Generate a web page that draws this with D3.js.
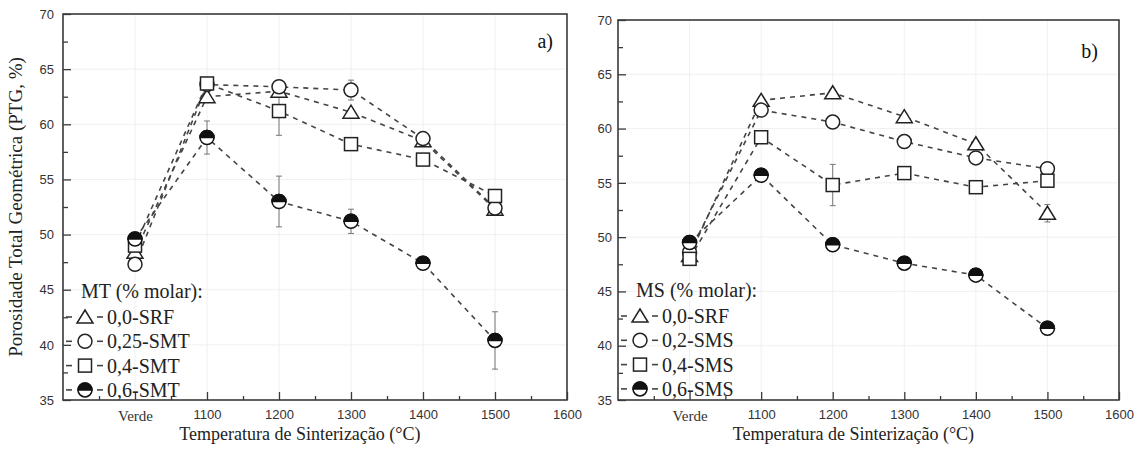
<!DOCTYPE html>
<html>
<head>
<meta charset="utf-8">
<script src="https://cdn.jsdelivr.net/npm/d3@7"></script>
<style>
  body { margin: 0; background: #fff; }
  svg { display: block; }
</style>
</head>
<body>
<div id="chart"></div>
<script>
// x positions (Verde = green body, drawn at 1000)
const temps = [1000, 1100, 1200, 1300, 1400, 1500]
const xTicks = [1000, 1100, 1200, 1300, 1400, 1500, 1600]
const xTickLabels = ['Verde', '1100', '1200', '1300', '1400', '1500', '1600']
const yTicks = [35, 40, 45, 50, 55, 60, 65, 70]

// a) MT
const mtNames = ['0,0-SRF', '0,25-SMT', '0,4-SMT', '0,6-SMT']
const mtSRF = [48.4, 62.5, 63.0, 61.1, 58.5, 52.3]
const mtSMT025 = [47.3, 63.6, 63.4, 63.1, 58.7, 52.4]
const mtSMT04 = [49.0, 63.7, 61.2, 58.2, 56.8, 53.5]
const mtSMT06 = [49.6, 58.8, 53.0, 51.2, 47.4, 40.4]
const mtErrSRF = [0.4, 0.4, 0.4, 0.3, 0.3, 0.4]
const mtErrSMT025 = [0.5, 0.3, 0.3, 0.9, 0.3, 0.5]
const mtErrSMT04 = [0.4, 0.3, 2.2, 0.3, 0.3, 0.3]
const mtErrSMT06 = [0.4, 1.5, 2.3, 1.1, 0.3, 2.6]

// b) MS
const msNames = ['0,0-SRF', '0,2-SMS', '0,4-SMS', '0,6-SMS']
const msSRF = [48.3, 62.6, 63.3, 61.1, 58.6, 52.2]
const msSMS02 = [48.6, 61.7, 60.6, 58.8, 57.3, 56.3]
const msSMS04 = [48.0, 59.2, 54.8, 55.9, 54.6, 55.2]
const msSMS06 = [49.5, 55.7, 49.3, 47.6, 46.5, 41.6]
const msErrSRF = [0.3, 0.3, 0.3, 0.3, 0.3, 0.8]
const msErrSMS02 = [0.3, 0.3, 0.3, 0.3, 0.3, 0.5]
const msErrSMS04 = [0.4, 0.3, 1.9, 0.3, 0.3, 0.3]
const msErrSMS06 = [0.3, 0.3, 0.3, 0.3, 0.3, 0.6]

const symbols = ['triangle', 'circle', 'square', 'half']

const width = 1140
const height = 454
const serif = '"Liberation Serif", "Times New Roman", serif'
const sans = '"Liberation Sans", Arial, sans-serif'
const axisColor = '#3a3a3a'

const svg = d3.select('#chart')
  .append('svg')
  .attr('width', width)
  .attr('height', height)

function drawMarker(g, symbol, cx, cy) {
  if (symbol === 'triangle') {
    g.append('path')
      .attr('d', `M ${cx - 8},${cy + 6} L ${cx + 8},${cy + 6} L ${cx},${cy - 7} Z`)
      .attr('fill', '#fff')
      .attr('stroke', '#222')
      .attr('stroke-width', 1.5)
  } else if (symbol === 'circle') {
    g.append('circle')
      .attr('cx', cx).attr('cy', cy).attr('r', 7)
      .attr('fill', '#fff')
      .attr('stroke', '#222')
      .attr('stroke-width', 1.5)
  } else if (symbol === 'square') {
    g.append('rect')
      .attr('x', cx - 6.5).attr('y', cy - 6.5)
      .attr('width', 13).attr('height', 13)
      .attr('fill', '#fff')
      .attr('stroke', '#222')
      .attr('stroke-width', 1.5)
  } else {
    const r = 7
    g.append('circle')
      .attr('cx', cx).attr('cy', cy).attr('r', r)
      .attr('fill', '#fff')
      .attr('stroke', '#111')
      .attr('stroke-width', 1.5)
    g.append('path')
      .attr('d', `M ${cx - r},${cy} A ${r},${r} 0 0 1 ${cx + r},${cy} Z`)
      .attr('fill', '#111')
      .attr('stroke', '#111')
      .attr('stroke-width', 1.5)
  }
}

function drawPanel(opts) {
  const x = d3.scaleLinear().domain([900, 1600]).range([opts.left, opts.right])
  const y = d3.scaleLinear().domain([35, 70]).range([opts.bottom, opts.top])
  const g = svg.append('g')

  // Faint grid
  g.append('g')
    .selectAll('line')
    .data(xTicks.slice(0, -1))
    .join('line')
    .attr('x1', d => x(d)).attr('x2', d => x(d))
    .attr('y1', opts.top).attr('y2', opts.bottom)
    .attr('stroke', '#f0f0f0')
  g.append('g')
    .selectAll('line')
    .data(yTicks.slice(1, -1))
    .join('line')
    .attr('x1', opts.left).attr('x2', opts.right)
    .attr('y1', d => y(d)).attr('y2', d => y(d))
    .attr('stroke', '#f0f0f0')

  // Axes, ticks inside
  const xAxis = d3.axisBottom(x)
    .tickValues(xTicks)
    .tickSize(-8)
    .tickPadding(10)
    .tickFormat((d, i) => xTickLabels[i])
  const xMinor = d3.axisBottom(x)
    .tickValues(d3.range(950, 1600, 100))
    .tickSize(-4)
    .tickFormat('')
  const yAxis = d3.axisLeft(y)
    .tickValues(yTicks)
    .tickSize(-8)
    .tickPadding(opts.yPad)
  const yMinor = d3.axisLeft(y)
    .tickValues(d3.range(37.5, 70, 5))
    .tickSize(-5)
    .tickFormat('')

  const gx = g.append('g').attr('transform', `translate(0,${opts.bottom})`).call(xAxis)
  g.append('g').attr('transform', `translate(0,${opts.bottom})`).call(xMinor)
  const gy = g.append('g').attr('transform', `translate(${opts.left},0)`).call(yAxis)
  g.append('g').attr('transform', `translate(${opts.left},0)`).call(yMinor)

  g.selectAll('.domain').remove()
  g.selectAll('.tick line').attr('stroke', axisColor).attr('stroke-width', 1.3)
  gx.selectAll('text')
    .attr('font-family', (d, i) => i === 0 ? serif : sans)
    .attr('font-size', (d, i) => i === 0 ? '15px' : '13px')
    .attr('fill', '#333')
  gy.selectAll('text')
    .attr('font-family', sans)
    .attr('font-size', '13px')
    .attr('fill', '#333')

  // Frame
  g.append('rect')
    .attr('x', opts.left).attr('y', opts.top)
    .attr('width', opts.right - opts.left)
    .attr('height', opts.bottom - opts.top)
    .attr('fill', 'none')
    .attr('stroke', axisColor)
    .attr('stroke-width', 1.6)

  // Dashed lines
  const line = d3.line().x((d, i) => x(temps[i])).y(d => y(d))
  opts.series.forEach(s => {
    g.append('path')
      .datum(s.values)
      .attr('d', line)
      .attr('fill', 'none')
      .attr('stroke', '#444')
      .attr('stroke-width', 1.6)
      .attr('stroke-dasharray', '5,5')
  })

  // Error bars
  opts.series.forEach(s => {
    s.values.forEach((v, i) => {
      const cx = x(temps[i])
      const e = s.errors[i]
      g.append('line')
        .attr('x1', cx).attr('x2', cx)
        .attr('y1', y(v - e)).attr('y2', y(v + e))
        .attr('stroke', '#777').attr('stroke-width', 1)
      ;[v - e, v + e].forEach(b => {
        g.append('line')
          .attr('x1', cx - 3).attr('x2', cx + 3)
          .attr('y1', y(b)).attr('y2', y(b))
          .attr('stroke', '#777').attr('stroke-width', 1)
      })
    })
  })

  // Markers
  opts.series.forEach(s => {
    s.values.forEach((v, i) => drawMarker(g, s.symbol, x(temps[i]), y(v)))
  })

  // Legend
  const lx = opts.left
  g.append('text')
    .attr('x', lx + 18).attr('y', opts.legendTop)
    .attr('font-family', serif).attr('font-size', '20px').attr('fill', '#222')
    .text(opts.legendTitle)
  opts.series.forEach((s, i) => {
    const ly = opts.legendTop + 19 + i * 24.3
    ;[[lx + 3, lx + 9], [lx + 34, lx + 40]].forEach(seg => {
      g.append('line')
        .attr('x1', seg[0]).attr('x2', seg[1])
        .attr('y1', ly).attr('y2', ly)
        .attr('stroke', '#444').attr('stroke-width', 1.6)
    })
    drawMarker(g, s.symbol, lx + 22, ly)
    g.append('text')
      .attr('x', lx + 44).attr('y', ly + 7)
      .attr('font-family', serif).attr('font-size', '20px').attr('fill', '#222')
      .text(s.name)
  })

  // Panel label
  g.append('text')
    .attr('x', opts.labelX).attr('y', opts.labelY)
    .attr('text-anchor', 'end')
    .attr('font-family', serif).attr('font-size', '20px').attr('fill', '#111')
    .text(opts.label)

  // X title
  g.append('text')
    .attr('x', opts.left + (opts.right - opts.left) * 0.47)
    .attr('y', 440)
    .attr('text-anchor', 'middle')
    .attr('font-family', serif).attr('font-size', '18px').attr('fill', '#222')
    .text('Temperatura de Sinterização (°C)')
}

drawPanel({
  left: 63, right: 567, top: 14, bottom: 400, yPad: 9,
  legendTop: 298, legendTitle: 'MT (% molar):', label: 'a)', labelX: 553, labelY: 48,
  series: [
    { name: mtNames[0], values: mtSRF, errors: mtErrSRF, symbol: symbols[0] },
    { name: mtNames[1], values: mtSMT025, errors: mtErrSMT025, symbol: symbols[1] },
    { name: mtNames[2], values: mtSMT04, errors: mtErrSMT04, symbol: symbols[2] },
    { name: mtNames[3], values: mtSMT06, errors: mtErrSMT06, symbol: symbols[3] }
  ]
})

drawPanel({
  left: 618, right: 1119, top: 20, bottom: 400, yPad: 6,
  legendTop: 297, legendTitle: 'MS (% molar):', label: 'b)', labelX: 1098, labelY: 58,
  series: [
    { name: msNames[0], values: msSRF, errors: msErrSRF, symbol: symbols[0] },
    { name: msNames[1], values: msSMS02, errors: msErrSMS02, symbol: symbols[1] },
    { name: msNames[2], values: msSMS04, errors: msErrSMS04, symbol: symbols[2] },
    { name: msNames[3], values: msSMS06, errors: msErrSMS06, symbol: symbols[3] }
  ]
})

// Y title (left panel only)
svg.append('text')
  .attr('transform', 'translate(22,207) rotate(-90)')
  .attr('text-anchor', 'middle')
  .attr('font-family', serif).attr('font-size', '19px').attr('fill', '#222')
  .text('Porosidade Total Geométrica (PTG, %)')
</script>
</body>
</html>
